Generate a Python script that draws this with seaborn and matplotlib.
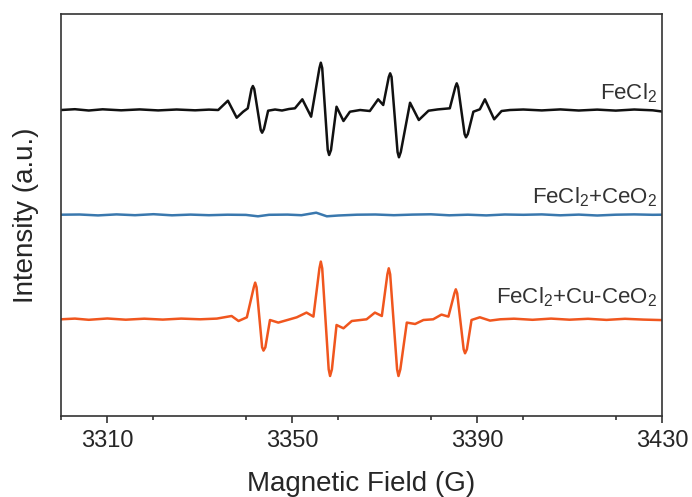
#!/usr/bin/env python3
"""EPR spectra of FeCl2 samples, stacked with vertical offsets."""

import matplotlib
matplotlib.use("Agg")
import matplotlib.pyplot as plt
from matplotlib.ticker import MultipleLocator
import pandas as pd
import seaborn as sns

# values (field in G, signal in arbitrary units)
black_field = [3300, 3303, 3306, 3309, 3313, 3317, 3321, 3325, 3329, 3332,
               3334.0, 3336.1, 3338.0, 3339.4, 3340.4, 3341.2, 3341.5, 3341.8, 3343.2, 3343.5,
               3343.9, 3344.8, 3346.3, 3347.8, 3349.3, 3350.6, 3352.2, 3354.1, 3355.9, 3356.2,
               3356.5, 3357.7, 3358.0, 3358.4, 3359.6, 3361.1, 3362.5, 3364.7, 3366.8, 3368.6,
               3369.7, 3370.9, 3371.2, 3371.5, 3372.8, 3373.1, 3373.5, 3375.5, 3377.4, 3379.5,
               3381.5, 3384.1, 3385.3, 3385.6, 3385.9, 3387.3, 3387.6, 3388.0, 3389.2, 3390.6,
               3391.7, 3393.7, 3395.3, 3397.1, 3400, 3404, 3408, 3412, 3416, 3420,
               3424, 3428, 3430]
black_signal = [0, 0.8, -0.5, 0.7, -0.3, 0.6, -0.4, 0.5, -0.3, 0.4,
                0, 9.3, -7.7, -1.7, 1.7, 21, 24, 21, -20, -22.7,
                -19, -0.7, 0.5, -0.5, 1.0, 1.7, 10.7, -6.7, 42, 47.3,
                42, -40, -45, -40, 3.3, -11, -1.7, 0, -1, 10.7,
                5, 33, 36.7, 33, -42, -47.3, -42, 7.3, -10, -0.7,
                0.6, 1.7, 23, 26.7, 23, -24, -27.3, -24, -1.7, 0.7,
                10.7, -9.3, -1, 0, 0.5, -0.4, 0.6, -0.5, 0.4, -0.6,
                0.5, -0.3, -1.5]

blue_field = [3300, 3304, 3308, 3312, 3316, 3320, 3324, 3328, 3332, 3336,
              3340, 3342.6, 3345, 3349, 3352, 3355.2, 3357.5, 3360, 3364, 3368,
              3372, 3376, 3380, 3384, 3388, 3392, 3396, 3400, 3404, 3408,
              3412, 3416, 3420, 3424, 3428, 3430]
blue_signal = [0.3, 0.5, -0.4, 0.6, -0.2, 0.8, -0.3, 0.4, -0.2, 0.3,
               0.1, -1.3, 0.2, 0.4, -0.2, 2.3, -1.3, -0.5, 0.3, 0.5,
               -0.2, 0.4, 0.7, -0.3, 0.3, -0.4, 0.5, 0.2, 0.6, -0.3,
               0.4, -0.5, 0.3, 0.6, 0.2, 0.3]

orange_field = [3300, 3303, 3306, 3310, 3314, 3318, 3322, 3326, 3330.1, 3333.7,
                3336.9, 3338.4, 3340.2, 3341.7, 3342.0, 3342.3, 3343.5, 3343.8, 3344.2, 3345.2,
                3347.0, 3349.5, 3351.0, 3353.1, 3354.6, 3355.9, 3356.2, 3356.5, 3357.9, 3358.2,
                3358.6, 3359.6, 3361.1, 3362.9, 3366.1, 3367.9, 3369.4, 3370.6, 3370.9, 3371.2,
                3372.7, 3373.0, 3373.4, 3374.8, 3376.6, 3378.4, 3380.5, 3382.3, 3383.8, 3385.1,
                3385.4, 3385.7, 3387.1, 3387.4, 3387.8, 3388.8, 3390.6, 3392.8, 3395.0, 3398,
                3402, 3406, 3410, 3414, 3418, 3422, 3426, 3430]
orange_signal = [0, 0.7, -0.5, 0.8, -0.4, 0.6, -0.3, 0.7, 0, 0.7,
                 3.3, -1.7, 2, 32, 36.7, 32, -28, -31.3, -28, -0.7,
                 -3.3, 0, 2, 6.7, 2.7, 51, 57.7, 51, -50, -56.7,
                 -50, -5.7, -9, -1.7, 0, 6.7, 3.3, 45, 51, 45,
                 -50, -56.7, -50, -3.3, -4.7, -0.7, 0, 4.7, 2.7, 26,
                 30, 26, -30, -34, -30, -0.7, 2, -1.3, 0, 0.6,
                 -0.5, 0.7, -0.4, 0.5, -0.6, 0.5, -0.3, -0.8]

sample_names = ["FeCl2", "FeCl2+CeO2", "FeCl2+Cu-CeO2"]
sample_labels = [r"FeCl$_2$", r"FeCl$_2$+CeO$_2$", r"FeCl$_2$+Cu-CeO$_2$"]
sample_offsets = [306, 201, 96.7]
sample_colors = ["#111111", "#3a78ae", "#f0561e"]
x_ticks = [3310, 3350, 3390, 3430]


def build_frame() -> pd.DataFrame:
	series = [(black_field, black_signal), (blue_field, blue_signal), (orange_field, orange_signal)]
	frames = []
	for name, offset, (field, signal) in zip(sample_names, sample_offsets, series):
		assert len(field) == len(signal), name
		frames.append(pd.DataFrame({
			"field": field,
			"intensity": [v + offset for v in signal],
			"sample": name,
		}))
	return pd.concat(frames, ignore_index=True)


def main() -> None:
	sns.set_theme(style="ticks")
	plt.rcParams["font.family"] = ["Liberation Sans", "DejaVu Sans"]
	plt.rcParams["mathtext.default"] = "regular"

	df = build_frame()
	fig = plt.figure(figsize=(6.92, 4.97), dpi=100)
	ax = fig.add_axes([0.0882, 0.163, 0.8684, 0.8088])

	sns.lineplot(data=df, x="field", y="intensity", hue="sample", hue_order=sample_names,
	             palette=sample_colors, estimator=None, sort=False, linewidth=1.8,
	             legend=False, ax=ax)

	for label, offset, in zip(sample_labels, [317, 212.7, 112.7]):
		ax.text(3429, offset, label, ha="right", va="baseline", fontsize=16, color="#333333")

	ax.set_xlim(3300, 3430)
	ax.set_ylim(0, 402)
	ax.set_xticks(x_ticks)
	ax.xaxis.set_minor_locator(MultipleLocator(20))
	ax.set_yticks([])
	ax.tick_params(axis="x", which="major", direction="out", length=5, width=1.2,
	               labelsize=17, pad=5, color="#333333")
	ax.tick_params(axis="x", which="minor", direction="out", length=3, width=1.2, color="#333333")
	for spine in ax.spines.values():
		spine.set_visible(True)
		spine.set_linewidth(1.2)
		spine.set_color("#333333")

	ax.set_xlabel("Magnetic Field (G)", fontsize=20, labelpad=14)
	ax.set_ylabel("Intensity (a.u.)", fontsize=20, labelpad=16)

	fig.savefig("out.png", dpi=100)
	plt.close(fig)


if __name__ == "__main__":
	main()
